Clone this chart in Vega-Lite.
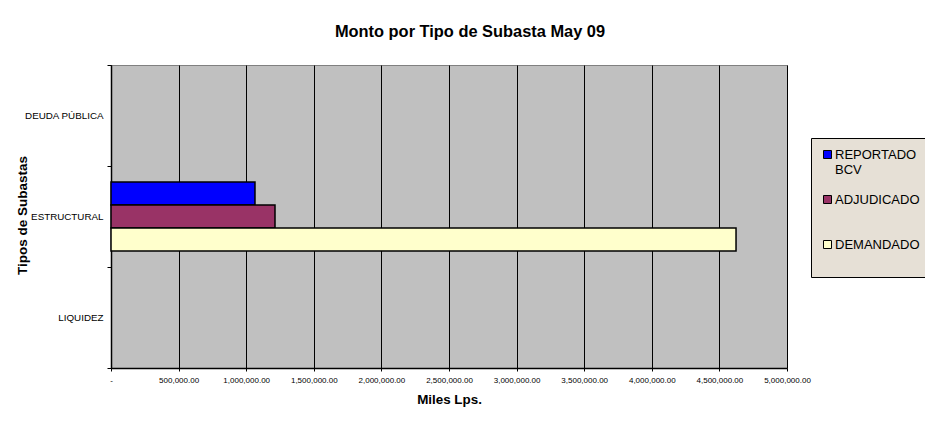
{
  "$schema": "https://vega.github.io/schema/vega-lite/v6.json",
  "autosize": {"type": "none"},
  "width": 676,
  "height": 303,
  "padding": {"left": 111, "top": 65, "right": 138, "bottom": 60},
  "background": "white",
  "title": {
    "text": "Monto por Tipo de Subasta May 09",
    "font": "Liberation Sans",
    "fontSize": 16.4,
    "fontWeight": "bold",
    "color": "black",
    "anchor": "middle",
    "dx": 21,
    "offset": 20
  },
  "data": {
    "values": [
      {"tipo": "ESTRUCTURAL", "serie": "REPORTADO BCV", "monto": 1065000},
      {"tipo": "ESTRUCTURAL", "serie": "ADJUDICADO", "monto": 1213000},
      {"tipo": "ESTRUCTURAL", "serie": "DEMANDADO", "monto": 4623000}
    ]
  },
  "mark": {"type": "bar", "stroke": "black", "strokeWidth": 1.5},
  "encoding": {
    "y": {
      "field": "tipo",
      "type": "nominal",
      "scale": {"domain": ["DEUDA PÚBLICA", "ESTRUCTURAL", "LIQUIDEZ"], "paddingInner": 0, "paddingOuter": 0},
      "axis": {
        "title": "Tipos de Subastas",
        "titleFont": "Liberation Sans",
        "titleFontSize": 13.5,
        "titleFontWeight": "bold",
        "titleColor": "black",
        "titleX": -89,
        "titleY": 150,
        "titleAngle": -90,
        "titleAlign": "center",
        "titleBaseline": "middle",
        "labelFont": "Liberation Sans",
        "labelFontSize": 9.8,
        "labelColor": "black",
        "labelPadding": 4,
        "labelLimit": 200,
        "tickBand": "extent",
        "tickSize": 4,
        "tickColor": "black",
        "domainColor": "black",
        "domainWidth": 1.5,
        "grid": false
      }
    },
    "yOffset": {
      "field": "serie",
      "type": "nominal",
      "sort": ["REPORTADO BCV", "ADJUDICADO", "DEMANDADO"],
      "scale": {"paddingInner": 0, "paddingOuter": 0.7}
    },
    "x": {
      "field": "monto",
      "type": "quantitative",
      "scale": {"domain": [0, 5000000], "nice": false},
      "axis": {
        "title": "Miles Lps.",
        "titleFont": "Liberation Sans",
        "titleFontSize": 13.4,
        "titleFontWeight": "bold",
        "titleColor": "black",
        "titlePadding": 8,
        "titleX": 338,
        "values": [0, 500000, 1000000, 1500000, 2000000, 2500000, 3000000, 3500000, 4000000, 4500000, 5000000],
        "labelExpr": "datum.value == 0 ? '-' : format(datum.value, ',.2f')",
        "labelFont": "Liberation Sans",
        "labelFontSize": 8,
        "labelColor": "black",
        "labelPadding": 5,
        "labelOverlap": false,
        "labelFlush": false,
        "tickSize": 3,
        "tickColor": "black",
        "domainColor": "black",
        "domainWidth": 1.5,
        "grid": true,
        "gridColor": "black",
        "gridWidth": 1,
        "gridOpacity": 1
      }
    },
    "fill": {
      "field": "serie",
      "type": "nominal",
      "scale": {
        "domain": ["REPORTADO BCV", "ADJUDICADO", "DEMANDADO"],
        "range": ["#0000ff", "#993366", "#ffffcc"]
      },
      "legend": {
        "title": null,
        "orient": "none",
        "legendX": 700,
        "legendY": 73,
        "fillColor": "#e6e0d6",
        "strokeColor": "black",
        "padding": 10,
        "symbolType": "square",
        "symbolSize": 64,
        "symbolStrokeColor": "black",
        "symbolStrokeWidth": 1,
        "labelFont": "Liberation Sans",
        "labelFontSize": 13,
        "labelColor": "black",
        "labelOffset": 1,
        "labelExpr": "datum.label == 'REPORTADO BCV' ? ['REPORTADO', 'BCV'] : [datum.label, '']",
        "rowPadding": 16,
        "labelLimit": 200
      }
    }
  },
  "config": {
    "view": {"fill": "#c0c0c0", "stroke": "#808080", "strokeWidth": 1},
    "font": "Liberation Sans"
  }
}
